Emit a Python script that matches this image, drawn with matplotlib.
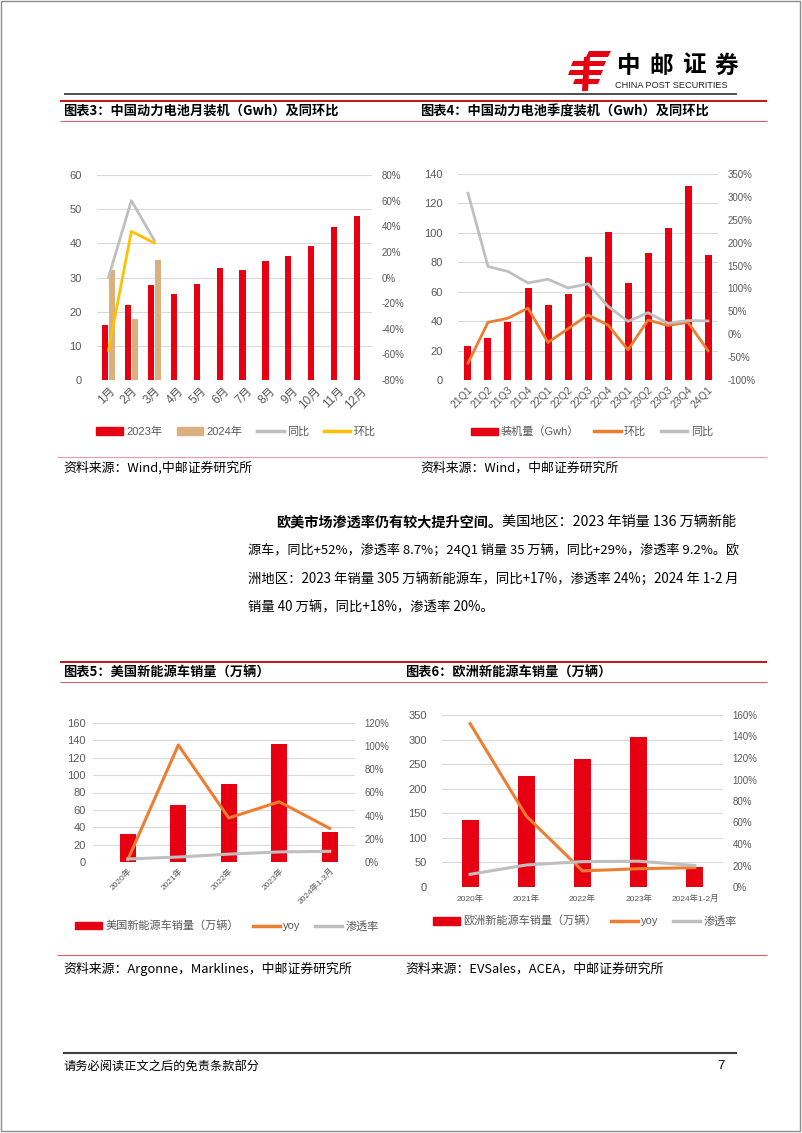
import matplotlib
matplotlib.use("Agg")
import matplotlib.pyplot as plt
import numpy as np
from matplotlib.lines import Line2D
from matplotlib.patches import Patch, Polygon, Rectangle
from matplotlib.ticker import PercentFormatter, MultipleLocator

plt.rcParams['font.family'] = ['Liberation Sans', 'Noto Sans CJK SC']
plt.rcParams['axes.unicode_minus'] = False

W, H = 802, 1133

# chart 3 data: monthly installs
months = ['1月', '2月', '3月', '4月', '5月', '6月', '7月', '8月', '9月', '10月', '11月', '12月']
inst_2023 = [16.1, 22.0, 27.9, 25.1, 28.2, 32.9, 32.2, 34.9, 36.4, 39.2, 44.9, 47.9]
inst_2024 = [32.3, 18.0, 35.0]
m_yoy = [0.0, 0.60, 0.29]
m_mom = [-0.57, 0.36, 0.27]

# chart 4 data: quarterly installs
quarters = ['21Q1', '21Q2', '21Q3', '21Q4', '22Q1', '22Q2', '22Q3', '22Q4',
            '23Q1', '23Q2', '23Q3', '23Q4', '24Q1']
q_inst = [23.1, 28.8, 39.5, 62.2, 51.1, 58.5, 83.5, 100.7, 65.6, 86.0, 103.2, 131.8, 85.1]
q_mom = [-0.63, 0.26, 0.35, 0.57, -0.18, 0.12, 0.42, 0.20, -0.34, 0.31, 0.19, 0.26, -0.36]
q_yoy = [3.08, 1.48, 1.37, 1.12, 1.20, 1.01, 1.10, 0.61, 0.28, 0.47, 0.24, 0.30, 0.29]

# chart 5 data: US NEV sales
us_years = ['2020年', '2021年', '2022年', '2023年', '2024年1-3月']
us_sales = [32.5, 65.3, 89.7, 136.0, 35.1]
us_yoy = [0.02, 1.01, 0.38, 0.52, 0.29]
us_pen = [0.026, 0.043, 0.068, 0.087, 0.092]

# chart 6 data: Europe NEV sales
eu_years = ['2020年', '2021年', '2022年', '2023年', '2024年1-2月']
eu_sales = [136.4, 226.6, 261.2, 305.0, 40.7]
eu_yoy = [1.52, 0.66, 0.15, 0.17, 0.18]
eu_pen = [0.118, 0.205, 0.236, 0.24, 0.20]

RED = '#E60012'
TAN = '#D9B07E'
GRAY = '#BFBFBF'
YEL = '#FFC000'
ORG = '#ED7D31'
TXT = '#595959'
GRID = '#D9D9D9'

fig = plt.figure(figsize=(W / 100, H / 100), dpi=100)

# page layer in pixel coords
page = fig.add_axes([0, 0, 1, 1])
page.set_xlim(0, W)
page.set_ylim(H, 0)
page.axis('off')

def hline(y, x0, x1, color, lw):
    page.plot([x0, x1], [y, y], color=color, lw=lw, solid_capstyle='butt')

page.add_patch(Rectangle((1, 1), W - 3, H - 3, fill=False, ec='#8C8C8C', lw=1))

# logo
for pts in [[(589, 51), (611, 51), (608, 57), (586, 57)],
            [(573, 61), (606, 61), (604, 66), (571, 66)],
            [(570, 70), (603, 70), (601, 75), (568, 75)],
            [(575, 79), (600, 79), (598, 84), (573, 84)],
            [(584, 57), (590, 57), (588, 91), (582, 91)]]:
    page.add_patch(Polygon(pts, closed=True, color=RED, lw=0))
for i, ch in enumerate('中邮证券'):
    page.text(629 + i * 32.5, 66, ch, fontsize=17, fontweight='bold',
              family=['Noto Sans CJK SC'], ha='center', va='center')
page.text(671, 86, 'CHINA POST SECURITIES', fontsize=6.6, ha='center', va='center',
          color='#222222')

hline(94, 64, 737, '#404040', 1.3)
hline(101, 60, 767, '#C00000', 1.3)
hline(121, 60, 767, '#D9606E', 0.8)
hline(457, 57, 767, '#E8A0A8', 0.8)
hline(662, 60, 767, '#C00000', 1.3)
hline(682, 60, 767, '#D9606E', 0.8)
hline(955, 57, 767, '#D9606E', 0.8)
hline(1053, 63, 737, '#404040', 1.5)

tfont = dict(fontsize=9.5, fontweight='bold', family=['Noto Sans CJK SC'], va='center')
page.text(63, 111, '图表3：中国动力电池月装机（Gwh）及同环比', **tfont)
page.text(420, 111, '图表4：中国动力电池季度装机（Gwh）及同环比', **tfont)
page.text(63, 673, '图表5：美国新能源车销量（万辆）', **tfont)
page.text(405, 673, '图表6：欧洲新能源车销量（万辆）', **tfont)

sfont = dict(fontsize=9.3, va='center', family=['Noto Sans CJK SC'])
page.text(63, 468, '资料来源：Wind,中邮证券研究所', **sfont)
page.text(420, 468, '资料来源：Wind，中邮证券研究所', **sfont)
page.text(63, 969, '资料来源：Argonne，Marklines，中邮证券研究所', **sfont)
page.text(405, 969, '资料来源：EVSales，ACEA，中邮证券研究所', **sfont)

page.text(63, 1066, '请务必阅读正文之后的免责条款部分', fontsize=8.8, va='center',
          family=['Noto Sans CJK SC'])
page.text(717, 1066, '7', fontsize=9.5, va='center')

# body paragraph, each full line fitted to the right margin at 737
r = fig.canvas.get_renderer()
bfont = dict(va='center', family=['Noto Sans CJK SC'])
bold = page.text(276, 522, '欧美市场渗透率仍有较大提升空间。', fontweight='bold', fontsize=10.2, **bfont)
bb = bold.get_window_extent(r)
rest = page.text(bb.x1, 522, '美国地区：2023 年销量 136 万辆新能', fontsize=10.2, **bfont)
body_lines = ['源车，同比+52%，渗透率 8.7%；24Q1 销量 35 万辆，同比+29%，渗透率 9.2%。欧',
              '洲地区：2023 年销量 305 万辆新能源车，同比+17%，渗透率 24%；2024 年 1-2 月',
              '销量 40 万辆，同比+18%，渗透率 20%。']
fs_last = 10.2
for i, s in enumerate(body_lines):
    t = page.text(248, 550 + i * 28.6, s, fontsize=10.2, **bfont)
    if i < 2:
        w = t.get_window_extent(r).width
        fs = 10.2 * (737 - 248) / w
        t.set_fontsize(fs)
        fs_last = fs
    else:
        t.set_fontsize(fs_last)


def add_ax(x0, y0, x1, y1):
    return fig.add_axes([x0 / W, 1 - y1 / H, (x1 - x0) / W, (y1 - y0) / H])


def style(ax, ax2, lpad, rpad, lsize=8, rsize=7):
    for a in (ax, ax2):
        for s in a.spines.values():
            s.set_visible(False)
    ax.yaxis.grid(True, color=GRID, lw=0.8)
    ax.set_axisbelow(True)
    ax.tick_params(axis='y', length=0, pad=lpad, labelsize=lsize, labelcolor=TXT)
    ax.tick_params(axis='x', length=0, labelcolor=TXT)
    ax2.tick_params(axis='y', length=0, pad=rpad, labelsize=rsize, labelcolor=TXT)
    ax2.yaxis.set_major_formatter(PercentFormatter(1.0, decimals=0))


def legend(handles, labels, cx, cy, size=8):
    lg = fig.legend(handles, labels, loc='center', bbox_to_anchor=(cx / W, 1 - cy / H),
                    ncol=len(handles), frameon=False, fontsize=size, handlelength=2.4,
                    handletextpad=0.3, columnspacing=1.3)
    for t in lg.get_texts():
        t.set_color(TXT)


# ---- chart 3
ax = add_ax(97, 175, 372, 380)
ax2 = ax.twinx()
x = np.arange(len(months))
ax.bar(x - 0.15, inst_2023, width=0.27, color=RED)
ax.bar(x[:3] + 0.15, inst_2024, width=0.27, color=TAN)
ax2.plot(x[:3], m_yoy, color=GRAY, lw=2)
ax2.plot(x[:3], m_mom, color=YEL, lw=2)
ax.set_xlim(-0.5, 11.5)
ax.set_ylim(0, 60)
ax.yaxis.set_major_locator(MultipleLocator(10))
ax2.set_ylim(-0.8, 0.8)
ax2.yaxis.set_major_locator(MultipleLocator(0.2))
ax.set_xticks(x)
ax.set_xticklabels(months, rotation=45, ha='right', rotation_mode='anchor', fontsize=8.5)
style(ax, ax2, 11, 7)
legend([Patch(color=RED), Patch(color=TAN), Line2D([], [], color=GRAY, lw=2.5),
        Line2D([], [], color=YEL, lw=2.5)], ['2023年', '2024年', '同比', '环比'], 236, 432)

# ---- chart 4
ax = add_ax(458, 174, 718, 380)
ax2 = ax.twinx()
x = np.arange(len(quarters))
ax.bar(x, q_inst, width=0.35, color=RED)
ax2.plot(x, q_mom, color=ORG, lw=2)
ax2.plot(x, q_yoy, color=GRAY, lw=2)
ax.set_xlim(-0.5, 12.5)
ax.set_ylim(0, 140)
ax.yaxis.set_major_locator(MultipleLocator(20))
ax2.set_ylim(-1.0, 3.5)
ax2.yaxis.set_major_locator(MultipleLocator(0.5))
ax.set_xticks(x)
ax.set_xticklabels(quarters, rotation=45, ha='right', rotation_mode='anchor', fontsize=7.6)
style(ax, ax2, 11, 7)
legend([Patch(color=RED), Line2D([], [], color=ORG, lw=2.5), Line2D([], [], color=GRAY, lw=2.5)],
       ['装机量（Gwh）', '环比', '同比'], 592, 432)

# ---- chart 5
ax = add_ax(93, 723, 355, 862)
ax2 = ax.twinx()
x = np.arange(len(us_years))
ax.bar(x, us_sales, width=0.32, color=RED)
ax2.plot(x, us_yoy, color=ORG, lw=2.2)
ax2.plot(x, us_pen, color=GRAY, lw=2.2)
ax.set_xlim(-0.69, 4.5)
ax.set_ylim(0, 160)
ax.yaxis.set_major_locator(MultipleLocator(20))
ax2.set_ylim(0, 1.2)
ax2.yaxis.set_major_locator(MultipleLocator(0.2))
ax.set_xticks(x)
ax.set_xticklabels(us_years, rotation=45, ha='right', rotation_mode='anchor', fontsize=6)
style(ax, ax2, 5, 7)
legend([Patch(color=RED), Line2D([], [], color=ORG, lw=2.5), Line2D([], [], color=GRAY, lw=2.5)],
       ['美国新能源车销量（万辆）', 'yoy', '渗透率'], 227, 926)

# ---- chart 6
ax = add_ax(442, 715, 723, 887)
ax2 = ax.twinx()
x = np.arange(len(eu_years))
ax.bar(x, eu_sales, width=0.3, color=RED)
ax2.plot(x, eu_yoy, color=ORG, lw=2.2)
ax2.plot(x, eu_pen, color=GRAY, lw=2.2)
ax.set_xlim(-0.5, 4.5)
ax.set_ylim(0, 350)
ax.yaxis.set_major_locator(MultipleLocator(50))
ax2.set_ylim(0, 1.6)
ax2.yaxis.set_major_locator(MultipleLocator(0.2))
ax.set_xticks(x)
ax.set_xticklabels(eu_years, fontsize=6)
ax.tick_params(axis='x', pad=6)
style(ax, ax2, 11, 7)
legend([Patch(color=RED), Line2D([], [], color=ORG, lw=2.5), Line2D([], [], color=GRAY, lw=2.5)],
       ['欧洲新能源车销量（万辆）', 'yoy', '渗透率'], 585, 921)

fig.savefig('out.png', dpi=100)
